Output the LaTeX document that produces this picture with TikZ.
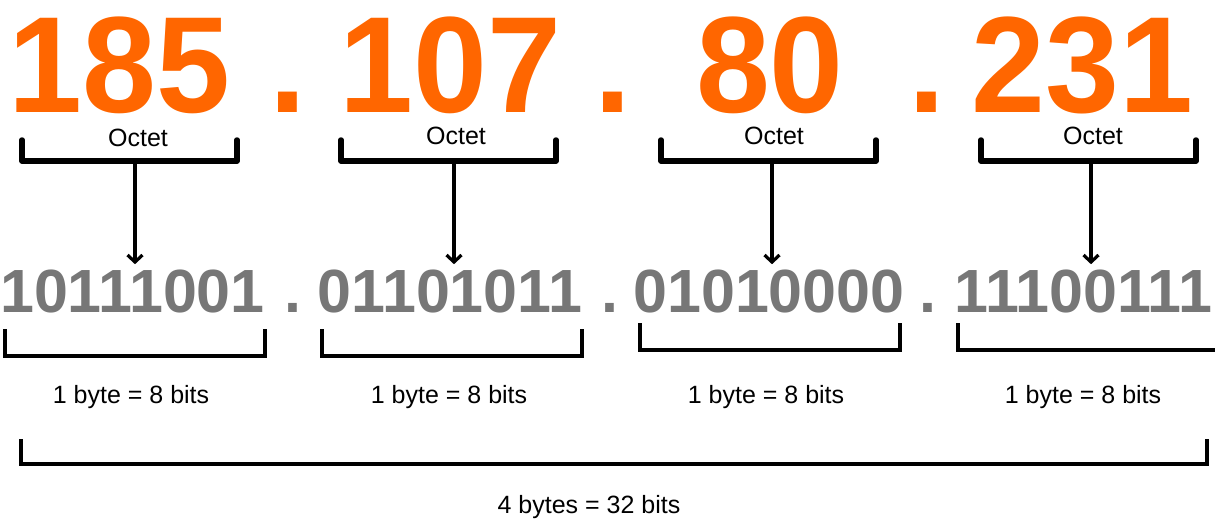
\documentclass[tikz,border=0pt]{standalone}
\usepackage{fontspec}
\setmainfont{Liberation Sans}
\usetikzlibrary{arrows.meta}

\definecolor{ipOrange}{HTML}{FF6600}
\definecolor{bitGrey}{HTML}{777777}

\begin{document}
\begin{tikzpicture}[x = 1pt, y = -1pt,
	dec/.style = {font = \fontsize{137}{137}\selectfont\bfseries, text = ipOrange, inner sep = 0pt, anchor = base, xscale = 0.97},
	bin/.style = {font = \fontsize{61}{61}\selectfont\bfseries, text = bitGrey, inner sep = 0pt, anchor = base},
	lbl/.style = {font = \fontsize{25}{25}\selectfont, inner sep = 0pt, anchor = base},
	octbrace/.style = {line width = 5.5pt, line cap = round, line join = round},
	bytebrace/.style = {line width = 4pt},
	down/.style = {line width = 3.2pt, -{Straight Barb[length = 7pt, width = 15pt]}, shorten > = 5pt}]
	\useasboundingbox (0,0) rectangle (1215,519);

	% dotted decimal address
	\node[dec] (d1) at (119.5,112) {185};
	\node[dec] (p1) at (288,112) {.};
	\node[dec] (d2) at (450.5,112) {107};
	\node[dec] (p2) at (613,112) {.};
	\node[dec] (d3) at (770,112) {80};
	\node[dec] (p3) at (927,112) {.};
	\node[dec] (d4) at (1082.5,112) {231};

	% octet braces
	\node[lbl] (o1) at (138,146) {Octet};
	\node[lbl] (o2) at (456,144) {Octet};
	\node[lbl] (o3) at (774,144) {Octet};
	\node[lbl] (o4) at (1093,144) {Octet};
	\draw[octbrace] (22,140) -- (22,161) -- (237,161) -- (237,140);
	\draw[octbrace] (341,140) -- (341,161) -- (556,161) -- (556,140);
	\draw[octbrace] (661,140) -- (661,161) -- (876,161) -- (876,140);
	\draw[octbrace] (981,140) -- (981,161) -- (1196,161) -- (1196,140);
	\coordinate (c1) at (135,161);
	\coordinate (c2) at (454,161);
	\coordinate (c3) at (772,161);
	\coordinate (c4) at (1091,161);

	% binary address
	\node[bin] (b1) at (132.5,312) {10111001};
	\node[bin] (q1) at (293,312) {.};
	\node[bin] (b2) at (450,312) {01101011};
	\node[bin] (q2) at (610,312) {.};
	\node[bin] (b3) at (769,312) {01010000};
	\node[bin] (q3) at (928,312) {.};
	\node[bin] (b4) at (1083.5,312) {11100111};

	\draw[down] (c1) -- (c1 |- b1.north);
	\draw[down] (c2) -- (c2 |- b2.north);
	\draw[down] (c3) -- (c3 |- b3.north);
	\draw[down] (c4) -- (c4 |- b4.north);

	% byte braces
	\draw[bytebrace] (5,329) -- (5,356) -- (265,356) -- (265,329);
	\draw[bytebrace] (322,329) -- (322,356) -- (582,356) -- (582,329);
	\draw[bytebrace] (640,323) -- (640,350) -- (900,350) -- (900,323);
	\draw[bytebrace] (958,323) -- (958,350) -- (1215,350);
	\node[lbl] (y1) at (131,403) {1 byte = 8 bits};
	\node[lbl] (y2) at (449,403) {1 byte = 8 bits};
	\node[lbl] (y3) at (766,403) {1 byte = 8 bits};
	\node[lbl] (y4) at (1083,403) {1 byte = 8 bits};

	% whole address
	\draw[bytebrace] (21,439) -- (21,464) -- (1207,464) -- (1207,439);
	\node[lbl] (all) at (589,513) {4 bytes = 32 bits};
\end{tikzpicture}
\end{document}
